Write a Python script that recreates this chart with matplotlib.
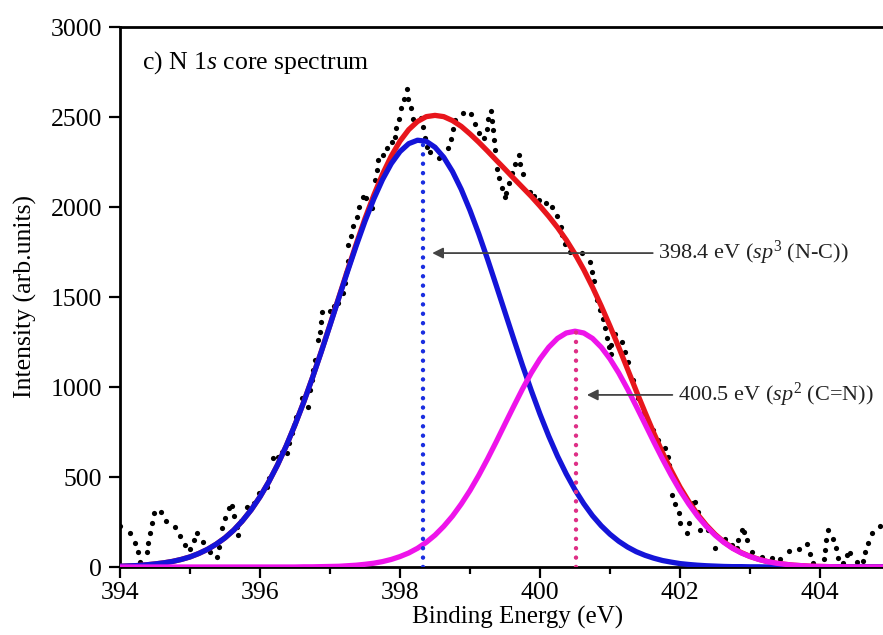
import numpy as np
import matplotlib
matplotlib.use("Agg")
import matplotlib.pyplot as plt

plt.rcParams['font.family'] = ['Liberation Serif', 'DejaVu Serif']
plt.rcParams['mathtext.fontset'] = 'custom'
plt.rcParams['mathtext.rm'] = 'Liberation Serif'
plt.rcParams['mathtext.it'] = 'Liberation Serif:italic'

# ---- measured data points (binding energy, intensity) ----
data_x = [394.00, 394.14, 394.21, 394.25, 394.29, 394.39, 394.40, 394.43, 394.45, 394.49,
          394.59, 394.65, 394.78, 394.86, 394.93, 395.00, 395.05, 395.10, 395.18, 395.28,
          395.38, 395.41, 395.46, 395.50, 395.55, 395.60, 395.63, 395.67, 395.69, 395.73,
          395.81, 395.92, 395.98, 396.10, 396.13, 396.19, 396.25, 396.31, 396.39, 396.41,
          396.45, 396.49, 396.52, 396.60, 396.69, 396.71, 396.74, 396.76, 396.79, 396.83,
          396.85, 396.87, 396.89, 397.00, 397.06, 397.12, 397.19, 397.21, 397.23, 397.25,
          397.26, 397.30, 397.33, 397.38, 397.41, 397.47, 397.52, 397.60, 397.64, 397.67,
          397.69, 397.75, 397.82, 397.88, 397.93, 397.94, 397.98, 398.02, 398.05, 398.10,
          398.12, 398.15, 398.19, 398.30, 398.33, 398.36, 398.38, 398.43, 398.55, 398.69,
          398.73, 398.76, 398.79, 398.90, 399.02, 399.07, 399.13, 399.20, 399.24, 399.26,
          399.30, 399.32, 399.33, 399.34, 399.36, 399.39, 399.42, 399.45, 399.50, 399.52,
          399.56, 399.60, 399.64, 399.70, 399.71, 399.75, 399.85, 399.92, 399.98, 400.08,
          400.17, 400.24, 400.30, 400.32, 400.36, 400.43, 400.50, 400.60, 400.71, 400.74,
          400.77, 400.81, 400.85, 400.90, 400.93, 400.95, 400.98, 401.01, 401.02, 401.07,
          401.17, 401.21, 401.26, 401.33, 401.40, 401.48, 401.55, 401.62, 401.69, 401.79,
          401.83, 401.84, 401.88, 401.93, 401.98, 402.00, 402.10, 402.13, 402.19, 402.21,
          402.25, 402.29, 402.40, 402.50, 402.64, 402.74, 402.81, 402.83, 402.88, 402.91,
          402.95, 403.03, 403.17, 403.31, 403.43, 403.56, 403.70, 403.82, 403.86, 403.90,
          404.05, 404.07, 404.09, 404.12, 404.18, 404.23, 404.26, 404.33, 404.38, 404.43,
          404.53, 404.62, 404.64, 404.68, 404.74, 404.86]
data_y = [228, 187, 135, 82, 30, 82, 135, 187, 243, 298,
          306, 254, 224, 172, 122, 98, 150, 191, 137, 85,
          57, 109, 219, 270, 326, 339, 283, 224, 178, 256,
          335, 357, 409, 446, 493, 604, 610, 641, 635, 687,
          743, 789, 835, 937, 891, 983, 1039, 1094, 1150, 1261,
          1307, 1363, 1418, 1420, 1450, 1465, 1520, 1576, 1631, 1700,
          1789, 1841, 1894, 1946, 2002, 2054, 2048, 1993, 2150, 2206,
          2261, 2290, 2330, 2360, 2391, 2437, 2491, 2548, 2600, 2654,
          2600, 2548, 2491, 2496, 2446, 2381, 2335, 2307, 2270, 2326,
          2376, 2431, 2483, 2520, 2515, 2461, 2409, 2381, 2431, 2487,
          2535, 2480, 2428, 2372, 2317, 2211, 2159, 2104, 2057, 2076,
          2131, 2187, 2237, 2289, 2237, 2183, 2085, 2060, 2039, 2020,
          2002, 1952, 1891, 1844, 1794, 1752, 1740, 1746, 1696, 1641,
          1591, 1483, 1430, 1376, 1326, 1270, 1224, 1183, 1233, 1293,
          1252, 1196, 1141, 1039, 937, 854, 780, 761, 706, 659,
          613, 567, 400, 350, 298, 243, 187, 243, 354, 363,
          307, 206, 206, 104, 154, 122, 104, 150, 206, 196,
          150, 85, 57, 52, 43, 91, 98, 128, 72, 20,
          43, 94, 150, 206, 154, 104, 48, 20, 67, 76,
          30, 33, 85, 135, 191, 228]

# ---- fitted curves, read at 0.125 eV steps from 394 to 405 ----
fit_x = np.arange(394.0, 405.0001, 0.125)
fit_total = [4, 6, 8, 12, 17, 23, 31, 42, 56, 75, 98, 127, 162, 205, 257, 318, 390, 473, 567, 673,
             790, 917, 1053, 1197, 1346, 1497, 1648, 1795, 1936, 2065, 2182, 2283, 2366, 2430, 2475,
             2502, 2509, 2502, 2480, 2448, 2406, 2360, 2311, 2260, 2210, 2159, 2109, 2059, 2005, 1948,
             1886, 1817, 1739, 1652, 1555, 1450, 1338, 1221, 1100, 978, 860, 745, 636, 536, 444,
             364, 293, 233, 182, 140, 106, 80, 59, 43, 30, 21, 15, 10, 7, 4,
             3, 2, 1, 1, 0, 0, 0, 0, 0]
fit_sp3 = [4, 6, 8, 12, 17, 23, 31, 42, 56, 75, 98, 127, 162, 205, 257, 318, 390, 473, 567, 673,
           790, 916, 1052, 1195, 1343, 1493, 1641, 1785, 1921, 2044, 2152, 2241, 2308, 2352, 2371,
           2365, 2332, 2276, 2197, 2098, 1981, 1851, 1711, 1564, 1415, 1266, 1120, 981, 849, 727,
           616, 517, 429, 352, 285, 229, 182, 143, 111, 85, 65, 49, 36, 27, 19,
           14, 10, 7, 5, 3, 2, 2, 1, 1, 0, 0, 0, 0, 0, 0,
           0, 0, 0, 0, 0, 0, 0, 0, 0]
fit_sp2 = [0, 0, 0, 0, 0, 0, 0, 0, 0, 0, 0, 0, 0, 0, 0, 0, 0, 0, 0, 0,
           0, 1, 1, 2, 3, 4, 7, 10, 15, 21, 30, 42, 58, 78, 104,
           137, 177, 226, 283, 350, 425, 509, 600, 696, 795, 893, 989, 1078, 1156, 1221,
           1270, 1300, 1310, 1300, 1270, 1221, 1156, 1078, 989, 893, 795, 696, 600, 509, 425,
           350, 283, 226, 177, 137, 104, 78, 58, 42, 30, 21, 15, 10, 7, 4,
           3, 2, 1, 1, 0, 0, 0, 0, 0]

peak_pos = [398.33, 400.52]
peak_height = [2372, 1310]
labels = [r'398.4 eV ($\mathit{sp}^{3}$ (N-C))', r'400.5 eV ($\mathit{sp}^{2}$ (C=N))']
label_pos = [(401.69, 1744), (401.97, 956)]
arrow_tip = [(398.46, 1744), (400.67, 956)]

fig = plt.figure(figsize=(8.83, 6.35), dpi=100)
ax = fig.add_axes([120/883, 68/635, 770/883, 540/635])

ax.scatter(data_x, data_y, s=14, color='black', zorder=2, linewidths=0)
ax.plot(fit_x, fit_total, color='#e8161c', lw=3.8, zorder=3, solid_capstyle='round')
ax.plot(fit_x, fit_sp3, color='#1414d8', lw=3.8, zorder=4, solid_capstyle='round')
ax.plot(fit_x, fit_sp2, color='#ee14ea', lw=3.8, zorder=5, solid_capstyle='round')

vcolors = ['#1a2ee0', '#de2f86']
for xp, h, c in zip(peak_pos, peak_height, vcolors):
    ax.plot([xp, xp], [0, h], color=c, lw=3.2, linestyle=(0, (0.01, 2.1)),
            dash_capstyle='round', zorder=6)

for txt, (tx, ty), (ax_, ay) in zip(labels, label_pos, arrow_tip):
    ax.annotate(txt, xy=(ax_, ay), xytext=(tx, ty), ha='left', va='center',
                fontsize=16, color='#222222',
                arrowprops=dict(arrowstyle='-|>', color='#444444', lw=1.3,
                                mutation_scale=16, shrinkA=2, shrinkB=0,
                                relpos=(0, 0.5)), zorder=7)

ax.text(394.31, 2800, r'c) N $\mathit{1s}$ core spectrum', fontsize=18.5,
        ha='left', va='center')

ax.set_xlim(394, 405)
ax.set_ylim(0, 3000)
ax.set_xticks([394, 396, 398, 400, 402, 404])
ax.set_xticks([395, 397, 399, 401, 403], minor=True)
ax.set_yticks([0, 500, 1000, 1500, 2000, 2500, 3000])
ax.tick_params(axis='both', which='major', direction='out', length=8, width=1.6,
               labelsize=18.5, pad=5)
ax.tick_params(axis='x', which='major', pad=3)
ax.tick_params(axis='x', which='minor', direction='out', length=5, width=1.6)
for s in ['left', 'bottom', 'top', 'right']:
    ax.spines[s].set_linewidth(2)

ax.set_xlabel('Binding Energy (eV)', fontsize=18, va='top')
ax.xaxis.set_label_coords(0.516, -0.072)
ax.set_ylabel('Intensity (arb.units)', fontsize=18.5, labelpad=10)

fig.savefig('out.png', dpi=100)
